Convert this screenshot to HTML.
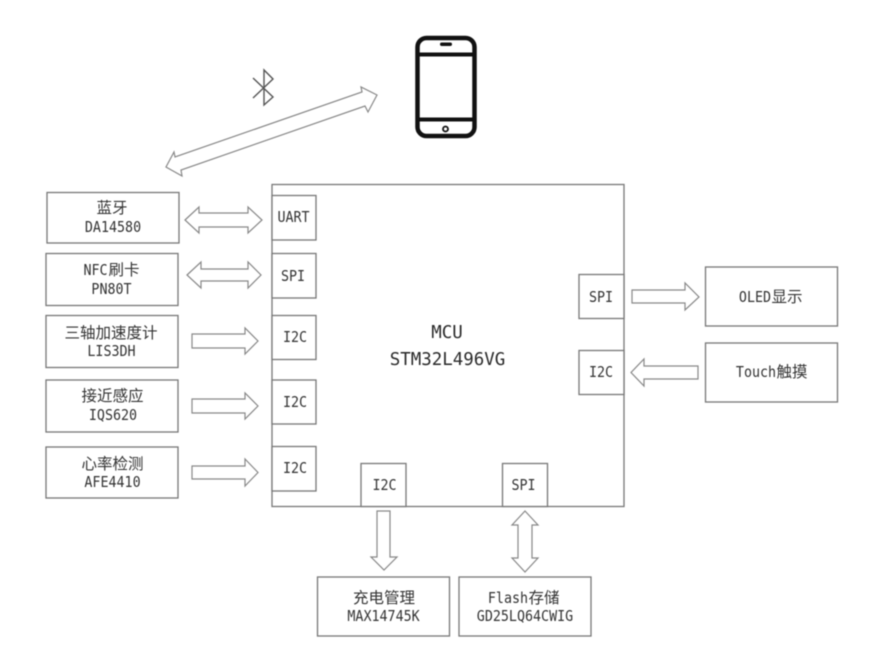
<!DOCTYPE html>
<html><head><meta charset="utf-8"><style>
html,body{margin:0;padding:0;background:#fff}
svg{display:block;filter:blur(.5px)}
text{text-anchor:middle;fill:#333}
.l,.m{font-family:"DejaVu Sans Mono",monospace;transform-box:fill-box;transform-origin:center}
.l{font-size:15px;transform:scaleX(.89)}
.m{font-size:18px;transform:scaleX(.97);fill:#2a2a2a}
.c{font-family:"Noto Sans CJK SC","WenQuanYi Zen Hei",sans-serif;font-size:15.500px}
.b{fill:#fff;stroke:#777;stroke-width:1.3}
.a{fill:#fff;stroke:#888;stroke-width:1.2;stroke-linejoin:miter}
</style></head><body>
<svg width="871" height="646" viewBox="0 0 871 646" xmlns="http://www.w3.org/2000/svg">
<rect class="b" x="272" y="184.500" width="352" height="322"/>
<rect class="b" x="272" y="195.500" width="44" height="44.500"/>
<rect class="b" x="272" y="253.500" width="44" height="44.500"/>
<rect class="b" x="272" y="315.500" width="44" height="44"/>
<rect class="b" x="272" y="380" width="44" height="44"/>
<rect class="b" x="272" y="446.500" width="44" height="44.500"/>
<rect class="b" x="579" y="274.500" width="45" height="44"/>
<rect class="b" x="579" y="350.500" width="45" height="44"/>
<rect class="b" x="361" y="463.500" width="45" height="43"/>
<rect class="b" x="502.500" y="463.500" width="45" height="43"/>

<rect class="b" x="47" y="192.500" width="132" height="50.500"/>
<rect class="b" x="46" y="253.500" width="132" height="52"/>
<rect class="b" x="46" y="315.500" width="132" height="52"/>
<rect class="b" x="46" y="380" width="132" height="52"/>
<rect class="b" x="46" y="447" width="132" height="51"/>
<rect class="b" x="705.500" y="267" width="132" height="59"/>
<rect class="b" x="705.500" y="343" width="132" height="59"/>
<rect class="b" x="317.500" y="577" width="132" height="59"/>
<rect class="b" x="459" y="577" width="132" height="59"/>

<text class="l" x="293.500" y="222">UART</text>
<text class="l" x="293" y="281">SPI</text>
<text class="l" x="295" y="342">I2C</text>
<text class="l" x="295" y="407">I2C</text>
<text class="l" x="295" y="473">I2C</text>
<text class="l" x="601" y="302">SPI</text>
<text class="l" x="601" y="377">I2C</text>
<text class="l" x="384.500" y="490">I2C</text>
<text class="l" x="523.500" y="490">SPI</text>

<text class="c" x="112" y="213">蓝牙</text>
<text class="l" x="113" y="232">DA14580</text>
<text class="l" x="95.500" y="275">NFC</text>
<text class="c" x="124" y="275">刷卡</text>
<text class="l" x="111.500" y="294">PN80T</text>
<text class="c" x="111" y="338">三轴加速度计</text>
<text class="l" x="111.500" y="356">LIS3DH</text>
<text class="c" x="112.500" y="401">接近感应</text>
<text class="l" x="113" y="420">IQS620</text>
<text class="c" x="112.500" y="469">心率检测</text>
<text class="l" x="112.500" y="487">AFE4410</text>
<text class="l" x="755" y="302">OLED</text>
<text class="c" x="787" y="302">显示</text>
<text class="l" x="756" y="377">Touch</text>
<text class="c" x="792" y="377">触摸</text>
<text class="c" x="384" y="603">充电管理</text>
<text class="l" x="383.500" y="621">MAX14745K</text>
<text class="l" x="508" y="603">Flash</text>
<text class="c" x="544" y="603">存储</text>
<text class="l" x="525" y="621">GD25LQ64CWIG</text>
<text class="m" x="447" y="338">MCU</text>
<text class="m" x="447.500" y="365">STM32L496VG</text>

<!-- left double arrows -->
<path class="a" d="M185 220L199 207V213H248V207L262 220L248 233V227H199V233Z"/>
<path class="a" d="M187 275L201 262V269H248V262L261 275L248 288V281H201V288Z"/>
<path class="a" d="M192 334H245V328L258 341L245 354V348H192Z"/>
<path class="a" d="M192 399H245V393L258 406L245 419V413H192Z"/>
<path class="a" d="M192 466H245V459L258 472.500L245 486V479H192Z"/>
<!-- right arrows -->
<path class="a" d="M632 290H685V283L699 297L685 310V303H632Z"/>
<path class="a" d="M698 366H644V359L631 372.500L644 386V379H698Z"/>
<!-- bottom arrows -->
<path class="a" d="M377 511H390V557H397L384 570L371 557H377Z"/>
<path class="a" d="M525 511L538 525H532V558H538L525 572L512 558H518V525H512Z"/>
<!-- diagonal arrow -->
<path class="a" d="M377 95L361 87L362 92L175 157L174 152L166 167L182 176L181 170L365 106L368 112Z"/>
<!-- bluetooth -->
<path d="M253 78L273 97L264 105V70L273 79L253 98" fill="none" stroke="#555" stroke-width="1.4"/>
<!-- phone -->
<rect x="417.500" y="38" width="57" height="98" rx="9" fill="#fff" stroke="#111" stroke-width="4.500"/>
<path d="M417 54.500H475M417 119.500H475" stroke="#111" stroke-width="4"/>
<rect x="440" y="42.500" width="12" height="3.500" rx="1.700" fill="#111"/>
<circle cx="445.500" cy="129" r="2.500" fill="#fff" stroke="#111" stroke-width="1.800"/>
</svg>
</body></html>
